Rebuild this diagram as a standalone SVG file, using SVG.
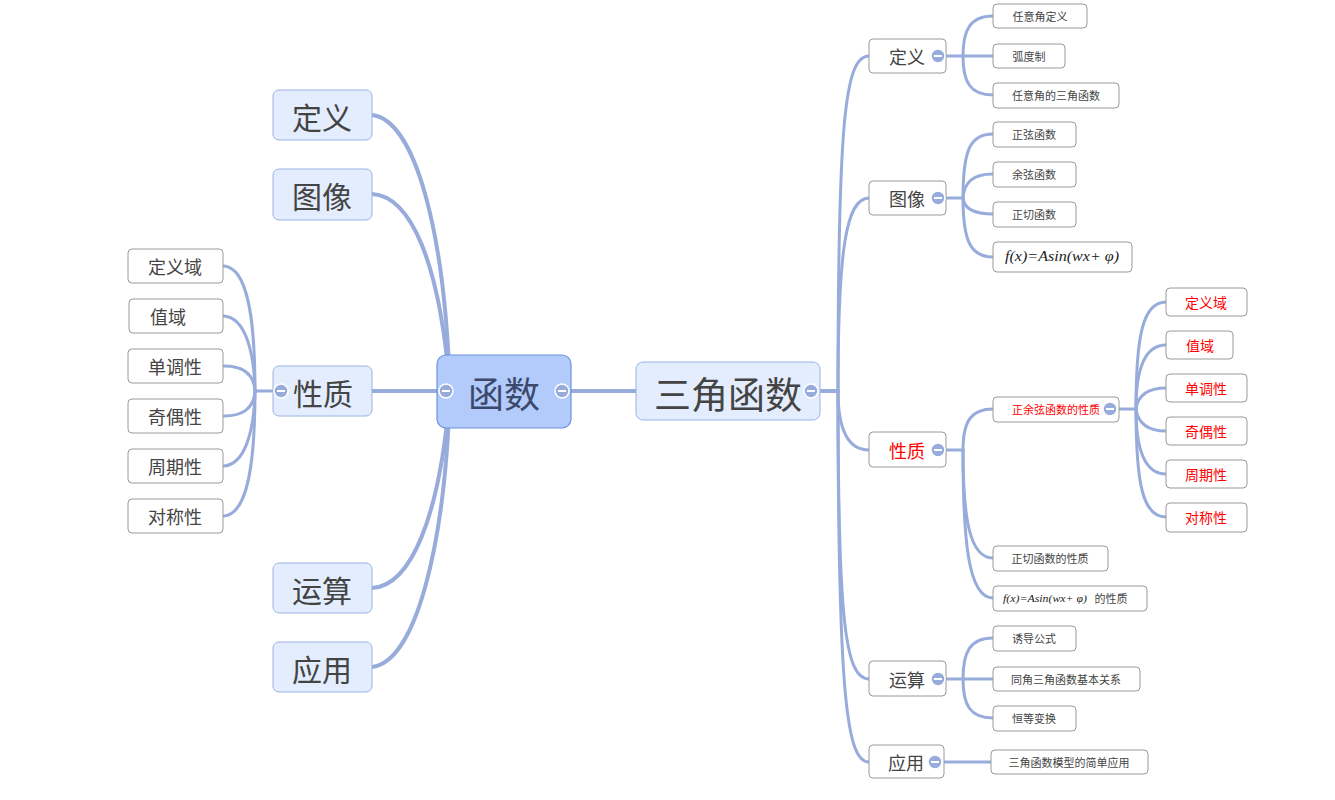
<svg xmlns="http://www.w3.org/2000/svg" width="1335" height="800" viewBox="0 0 1335 800">
<style>
text{font-family:"Microsoft YaHei","Noto Sans CJK SC","Noto Sans",sans-serif;text-anchor:middle;dominant-baseline:central}
.main rect{fill:#b2cbfb;stroke:#6d92dd;stroke-width:1.2}
.l1 rect{fill:#e3edfd;stroke:#9bb3e2;stroke-width:1}
.sub rect{fill:#fff;stroke:#9a9a9a;stroke-width:1}
.t30{font-size:30px;fill:#444}
.t36{font-size:36px;fill:#3b4a6c}
.t40{font-size:37px;fill:#444}
.t18{font-size:18px;fill:#444}
.t11{font-size:11px;fill:#444}
.t14{font-size:14px;fill:#444}
.red{fill:#f00}
.math{font-family:"Liberation Serif","Times New Roman",serif;font-style:italic;fill:#222}
.conn path{fill:none;stroke:#98acdc;stroke-linecap:round}
.w4{stroke-width:4}
.w3{stroke-width:3}
.cb circle{fill:#98acdc;stroke:#fff;stroke-width:1.5}
.cb line{stroke:#fff;stroke-width:2}
</style>
<g id="connectors" class="conn">
<path class="w4" d="M372,115 C415,120 445,230 450,391"/>
<path class="w4" d="M372,194 C410,196 440,260 450,391"/>
<path class="w4" d="M372,391 L450,391"/>
<path class="w4" d="M372,588 C410,586 440,520 450,391"/>
<path class="w4" d="M372,667 C415,662 445,550 450,391"/>
<path class="w3" d="M273,391 L255,391"/>
<path class="w3" d="M224,266 C248,268 255,320 255,391"/>
<path class="w3" d="M224,316 C245,318 254,350 255,391"/>
<path class="w3" d="M224,366 C245,366 254,376 255,391"/>
<path class="w3" d="M224,416 C245,416 254,406 255,391"/>
<path class="w3" d="M224,466 C245,464 254,432 255,391"/>
<path class="w3" d="M224,516 C248,514 255,462 255,391"/>
<path class="w4" d="M562,391 L636,391"/>
<path class="w4" d="M820,391 L838,391"/>
<path class="w3" d="M869,56 C845,56 838,120 838,391"/>
<path class="w3" d="M869,198 C846,198 838,250 838,391"/>
<path class="w3" d="M869,450 C848,450 838,430 838,391"/>
<path class="w3" d="M869,679 C845,679 838,620 838,391"/>
<path class="w3" d="M869,762 C847,762 838,700 838,391"/>
<path class="w3" d="M946,56 L993,56"/>
<path class="w3" d="M993,16 C970,16 963,30 963,56"/>
<path class="w3" d="M993,95 C970,95 963,82 963,56"/>
<path class="w3" d="M946,198 L963,198"/>
<path class="w3" d="M993,134 C970,134 963,150 963,198"/>
<path class="w3" d="M993,174 C973,174 964,182 963,198"/>
<path class="w3" d="M993,214 C973,214 964,208 963,198"/>
<path class="w3" d="M993,257 C970,257 963,240 963,198"/>
<path class="w3" d="M946,450 L963,450"/>
<path class="w3" d="M993,409 C972,409 963,420 963,450"/>
<path class="w3" d="M993,558 C970,558 963,520 963,450"/>
<path class="w3" d="M993,598 C968,598 963,540 963,450"/>
<path class="w3" d="M1119,409 L1136,409"/>
<path class="w3" d="M1166,302 C1143,302 1136,335 1136,409"/>
<path class="w3" d="M1166,345 C1145,345 1136,370 1136,409"/>
<path class="w3" d="M1166,388 C1148,388 1138,395 1136,409"/>
<path class="w3" d="M1166,431 C1148,431 1138,423 1136,409"/>
<path class="w3" d="M1166,474 C1145,474 1136,450 1136,409"/>
<path class="w3" d="M1166,517 C1143,517 1136,485 1136,409"/>
<path class="w3" d="M946,679 L993,679"/>
<path class="w3" d="M993,638 C970,638 963,652 963,679"/>
<path class="w3" d="M993,718 C970,718 963,705 963,679"/>
<path class="w3" d="M944,762 L991,762"/>
</g>

<g id="n-hanshu" class="main"><rect x="437" y="355" width="134" height="73" rx="9"/><text class="t36" x="504" y="392">函数</text></g>
<g id="n-dingyi-l" class="l1"><rect x="273" y="90" width="99" height="50" rx="6"/><text class="t30" x="322" y="116">定义</text></g>
<g id="n-tuxiang-l" class="l1"><rect x="273" y="169" width="99" height="51" rx="6"/><text class="t30" x="322" y="195">图像</text></g>
<g id="n-xingzhi-l" class="l1"><rect x="273" y="366" width="99" height="50" rx="6"/><text class="t30" x="323" y="392">性质</text></g>
<g id="n-yunsuan-l" class="l1"><rect x="273" y="563" width="99" height="50" rx="6"/><text class="t30" x="322" y="589">运算</text></g>
<g id="n-yingyong-l" class="l1"><rect x="273" y="642" width="99" height="50" rx="6"/><text class="t30" x="322" y="668">应用</text></g>

<g id="n-dyy-l" class="sub"><rect x="128" y="249" width="95" height="34" rx="4"/><text class="t18" x="175" y="266">定义域</text></g>
<g id="n-zy-l" class="sub"><rect x="129" y="299" width="94" height="34" rx="4"/><text class="t18" x="168" y="316">值域</text></g>
<g id="n-ddx-l" class="sub"><rect x="128" y="349" width="95" height="34" rx="4"/><text class="t18" x="175" y="366">单调性</text></g>
<g id="n-jox-l" class="sub"><rect x="128" y="399" width="95" height="34" rx="4"/><text class="t18" x="175" y="416">奇偶性</text></g>
<g id="n-zqx-l" class="sub"><rect x="128" y="449" width="95" height="34" rx="4"/><text class="t18" x="175" y="466">周期性</text></g>
<g id="n-dcx-l" class="sub"><rect x="128" y="499" width="95" height="34" rx="4"/><text class="t18" x="175" y="516">对称性</text></g>

<g id="n-sanjiao" class="l1"><rect x="636" y="362" width="184" height="58" rx="7"/><text class="t40" x="728" y="393">三角函数</text></g>

<g id="n-dingyi-r" class="sub"><rect x="869" y="39" width="77" height="34" rx="4"/><text class="t18" x="907" y="56">定义</text></g>
<g id="n-tuxiang-r" class="sub"><rect x="869" y="181" width="77" height="34" rx="4"/><text class="t18" x="907" y="198">图像</text></g>
<g id="n-xingzhi-r" class="sub"><rect x="869" y="432" width="77" height="35" rx="4"/><text class="t18 red" x="907" y="450">性质</text></g>
<g id="n-yunsuan-r" class="sub"><rect x="869" y="661" width="77" height="35" rx="4"/><text class="t18" x="907" y="679">运算</text></g>
<g id="n-yingyong-r" class="sub"><rect x="869" y="745" width="75" height="33" rx="4"/><text class="t18" x="906" y="762">应用</text></g>

<g id="n-ryjdy" class="sub"><rect x="993" y="4" width="94" height="24" rx="4"/><text class="t11" x="1040" y="16">任意角定义</text></g>
<g id="n-hdz" class="sub"><rect x="993" y="44" width="72" height="24" rx="4"/><text class="t11" x="1029" y="56">弧度制</text></g>
<g id="n-ryjdsjhs" class="sub"><rect x="993" y="83" width="126" height="25" rx="4"/><text class="t11" x="1056" y="95">任意角的三角函数</text></g>

<g id="n-zxhs" class="sub"><rect x="993" y="122" width="83" height="25" rx="4"/><text class="t11" x="1034" y="134">正弦函数</text></g>
<g id="n-yxhs" class="sub"><rect x="993" y="162" width="83" height="25" rx="4"/><text class="t11" x="1034" y="174">余弦函数</text></g>
<g id="n-zqhs" class="sub"><rect x="993" y="202" width="83" height="25" rx="4"/><text class="t11" x="1034" y="214">正切函数</text></g>
<g id="n-formula1" class="sub"><rect x="993" y="242" width="139" height="30" rx="4"/><text class="math" x="1062" y="256" font-size="15" textLength="114" lengthAdjust="spacingAndGlyphs">f(x)=Asin(wx+ φ)</text></g>

<g id="n-zyxxz" class="sub"><rect x="993" y="397" width="126" height="25" rx="4"/><text class="t11 red" x="1056" y="409">正余弦函数的性质</text></g>
<g id="n-zqxz" class="sub"><rect x="993" y="546" width="115" height="25" rx="4"/><text class="t11" x="1050" y="558">正切函数的性质</text></g>
<g id="n-formula2" class="sub"><rect x="993" y="586" width="154" height="25" rx="4"/><text class="math" x="1045" y="598" font-size="11" textLength="84" lengthAdjust="spacingAndGlyphs">f(x)=Asin(wx+ φ)</text><text class="t11" x="1111" y="598">的性质</text></g>

<g id="n-dyy-r" class="sub"><rect x="1166" y="288" width="81" height="28" rx="4"/><text class="t14 red" x="1206" y="302">定义域</text></g>
<g id="n-zy-r" class="sub"><rect x="1166" y="331" width="67" height="28" rx="4"/><text class="t14 red" x="1200" y="345">值域</text></g>
<g id="n-ddx-r" class="sub"><rect x="1166" y="374" width="81" height="28" rx="4"/><text class="t14 red" x="1206" y="388">单调性</text></g>
<g id="n-jox-r" class="sub"><rect x="1166" y="417" width="81" height="28" rx="4"/><text class="t14 red" x="1206" y="431">奇偶性</text></g>
<g id="n-zqx-r" class="sub"><rect x="1166" y="460" width="81" height="28" rx="4"/><text class="t14 red" x="1206" y="474">周期性</text></g>
<g id="n-dcx-r" class="sub"><rect x="1166" y="503" width="81" height="29" rx="4"/><text class="t14 red" x="1206" y="517">对称性</text></g>

<g id="n-ydgs" class="sub"><rect x="993" y="626" width="83" height="25" rx="4"/><text class="t11" x="1034" y="638">诱导公式</text></g>
<g id="n-tjgx" class="sub"><rect x="993" y="667" width="147" height="24" rx="4"/><text class="t11" x="1066" y="679">同角三角函数基本关系</text></g>
<g id="n-hdbh" class="sub"><rect x="993" y="706" width="83" height="25" rx="4"/><text class="t11" x="1034" y="718">恒等变换</text></g>
<g id="n-jdyy" class="sub"><rect x="991" y="750" width="157" height="24" rx="4"/><text class="t11" x="1069" y="762">三角函数模型的简单应用</text></g>

<g id="collapse-buttons" class="cb">
<circle cx="446" cy="391" r="7"/><line x1="442" y1="391" x2="450" y2="391"/>
<circle cx="562" cy="391" r="7"/><line x1="558" y1="391" x2="566" y2="391"/>
<circle cx="281" cy="391" r="7"/><line x1="277" y1="391" x2="285" y2="391"/>
<circle cx="811" cy="391" r="7"/><line x1="807" y1="391" x2="815" y2="391"/>
<circle cx="938" cy="56" r="7"/><line x1="934" y1="56" x2="942" y2="56"/>
<circle cx="938" cy="198" r="7"/><line x1="934" y1="198" x2="942" y2="198"/>
<circle cx="938" cy="450" r="7"/><line x1="934" y1="450" x2="942" y2="450"/>
<circle cx="938" cy="679" r="7"/><line x1="934" y1="679" x2="942" y2="679"/>
<circle cx="935" cy="762" r="7"/><line x1="931" y1="762" x2="939" y2="762"/>
<circle cx="1110" cy="409" r="7"/><line x1="1106" y1="409" x2="1114" y2="409"/>
</g>
</svg>
